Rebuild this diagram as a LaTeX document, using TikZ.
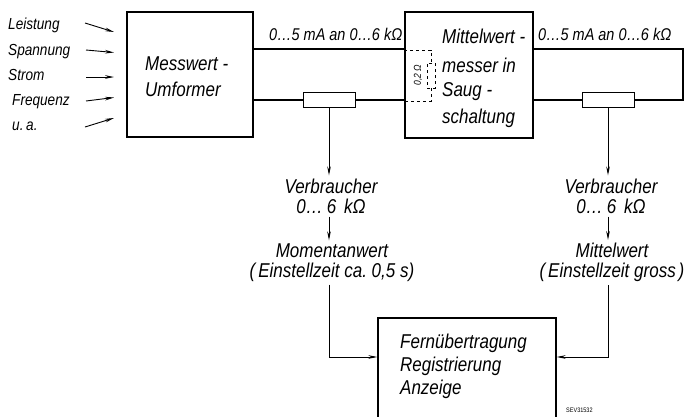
\documentclass[tikz,border=0pt]{standalone}
\usepackage{fontspec}
\setmainfont{Liberation Sans}[FakeStretch=0.85]
\usetikzlibrary{arrows.meta}
\begin{document}
\begin{tikzpicture}[x=1pt,y=-1pt,
  box/.style={draw,line width=1.3pt,inner sep=0pt},
  wire/.style={line width=2.6pt},
  res/.style={draw,line width=1pt,fill=white,minimum width=52pt,minimum height=15pt,inner sep=0pt},
  arr/.style={line width=0.9pt,-{Stealth[length=9pt,width=3.6pt]}},
  big/.style={font=\itshape\fontsize{20}{22}\selectfont,inner sep=0pt},
  mid/.style={font=\itshape\fontsize{17}{19}\selectfont,inner sep=0pt},
  small/.style={font=\itshape\fontsize{16}{18}\selectfont,inner sep=0pt},
  sub/.style={font=\itshape\fontsize{20}{20}\selectfont,align=center,inner sep=3pt}]
\useasboundingbox (0,0) rectangle (697,416);

% boxes
\node[box,minimum width=126pt,minimum height=125pt] (b1) at (190,74.5) {};
\node[box,minimum width=128pt,minimum height=126pt] (b2) at (469,75) {};
\node[box,minimum width=178pt,minimum height=140pt] (b3) at (467,388) {};

% box texts
\node[big,anchor=base west] (t1a) at (145,70) {Messwert -};
\node[big,anchor=base west] (t1b) at (145,96) {Umformer};
\node[big,anchor=base west] (t2a) at (442,43) {Mittelwert -};
\node[big,anchor=base west] (t2b) at (442,72) {messer in};
\node[big,anchor=base west] (t2c) at (442,96) {Saug -};
\node[big,anchor=base west] (t2d) at (442,123) {schaltung};
\node[big,anchor=base west] (t3a) at (400,348) {Fernübertragung};
\node[big,anchor=base west] (t3b) at (400,371) {Registrierung};
\node[big,anchor=base west] (t3c) at (400,394) {Anzeige};

% input labels
\node[small,anchor=base west] (l1) at (8,29) {Leistung};
\node[small,anchor=base west] (l2) at (8,55) {Spannung};
\node[small,anchor=base west] (l3) at (8,80) {Strom};
\node[small,anchor=base west] (l4) at (12,105) {Frequenz};
\node[small,anchor=base west] (l5) at (12,130) {u.\,a.};
\coordinate (a1s) at (85,23);  \coordinate (a1e) at (114,32);
\coordinate (a2s) at (86,50);  \coordinate (a2e) at (114,52.5);
\coordinate (a3s) at (86,77);  \coordinate (a3e) at (114,77);
\coordinate (a4s) at (86,101); \coordinate (a4e) at (114,97.5);
\coordinate (a5s) at (85,127); \coordinate (a5e) at (114,118);
\foreach \i in {1,...,5} \draw[arr] (a\i s) -- (a\i e);

% wire labels
\node[mid,anchor=base west] (w1) at (269,40) {0…5 mA an 0…6 kΩ};
\node[mid,anchor=base west] (w2) at (538,40) {0…5 mA an 0…6 kΩ};

% wires
\coordinate (yt) at (0,49);
\coordinate (yb) at (0,100);
\node[res] (r1) at (329,100) {};
\node[res] (r2) at (608,100) {};
\coordinate (c1) at (683,49);
\coordinate (c2) at (683,100);
\draw[wire] (b1.east |- yt) -- (b2.west |- yt);
\draw[wire] (b1.east |- yb) -- (r1.west);
\draw[wire] (r1.east) -- (b2.west |- yb);
\draw[wire,line join=miter] (b2.east |- yt) -- (c1) -- (c2) -- (r2.east);
\draw[wire] (r2.west) -- (b2.east |- yb);

% shunt
\node[draw,dashed,line width=0.8pt,minimum width=8pt,minimum height=25pt,inner sep=0pt] (sh) at (431,75.5) {};
\node[rotate=90,font=\itshape\fontsize{10}{11}\selectfont,inner sep=0pt] (shl) at (418,75.5) {0,2\,Ω};
\coordinate (ds) at (0,50);
\coordinate (db) at (0,101);
\draw[dashed,line width=0.8pt] (b2.west |- ds) -- (sh.north |- ds) -- (sh.north);
\draw[dashed,line width=0.8pt] (sh.south) -- (sh.south |- db) -- (b2.west |- db);

% consumers
\node[sub] (v1) at (331,196) {Verbraucher\\0…\hspace{4pt}6\hspace{8pt}kΩ};
\node[sub] (v2) at (611,196) {Verbraucher\\0…\hspace{4pt}6\hspace{8pt}kΩ};
\node[sub] (m1) at (332,262.5) {Momentanwert\\(\hspace{3pt}Einstellzeit ca.\ 0,5 s)};
\node[sub] (m2) at (612,262.5) {Mittelwert\\(\hspace{3pt}Einstellzeit gross\hspace{3pt})};

\draw[arr] (r1.south) -- (r1.south |- v1.north);
\draw[arr] (r1.south |- v1.south) -- (r1.south |- m1.north);
\draw[arr] (r2.south) -- (r2.south |- v2.north);
\draw[arr] (r2.south |- v2.south) -- (r2.south |- m2.north);

\coordinate (yj) at (0,357);
\draw[arr] (r1.south |- m1.south) -- (r1.south |- yj) -- (b3.west |- yj);
\draw[arr] (r2.south |- m2.south) -- (r2.south |- yj) -- (b3.east |- yj);

\node[font=\fontsize{6.5}{7}\selectfont,anchor=north west,inner sep=0pt] (sev) at (566,408) {SEV31532};
\end{tikzpicture}
\end{document}
